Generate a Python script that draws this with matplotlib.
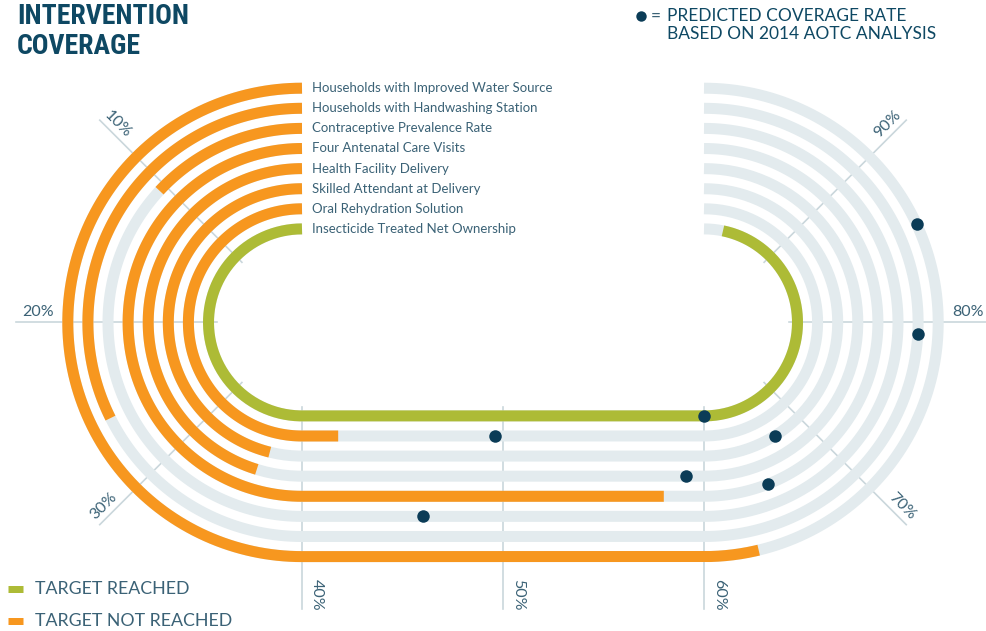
import numpy as np
import matplotlib
matplotlib.use("Agg")
import matplotlib.pyplot as plt

# data: rings listed from outermost to innermost
labels = [
    "Households with Improved Water Source",
    "Households with Handwashing Station",
    "Contraceptive Prevalence Rate",
    "Four Antenatal Care Visits",
    "Health Facility Delivery",
    "Skilled Attendant at Delivery",
    "Oral Rehydration Solution",
    "Insecticide Treated Net Ownership",
]
coverage = [63.0, 25.9, 10.5, 58.0, 36.2, 36.9, 41.8, 97.4]
predicted = [85.5, 79.3, 46.0, 64.8, 59.1, 67.1, 49.6, 60.0]
reached = [False, False, False, False, False, False, False, True]
tick_pcts = [10, 20, 30, 40, 50, 60, 70, 80, 90]

ORANGE = "#F7971F"
GREEN = "#ADBB36"
TRACK = "#E3EBEE"
NAVY = "#0B3C57"
TEXT = "#3B6276"
TITLE = "#0E4863"
GRID = "#CAD7DC"

# racetrack geometry (pixel space)
CXL, CXR, CY = 302.0, 704.0, 322.4
R0, DR = 93.5, 20.1
LW = 11 * 0.72  # 11 px ring width


def track_xy(p, r):
    p = np.asarray(p, dtype=float)
    x = np.empty_like(p)
    y = np.empty_like(p)
    left = p <= 40
    mid = (p > 40) & (p <= 60)
    right = p > 60
    th = np.radians(90 + p[left] / 40 * 180)
    x[left] = CXL + r * np.cos(th)
    y[left] = CY - r * np.sin(th)
    x[mid] = CXL + (p[mid] - 40) / 20 * (CXR - CXL)
    y[mid] = CY + r
    th = np.radians(-90 + (p[right] - 60) / 40 * 180)
    x[right] = CXR + r * np.cos(th)
    y[right] = CY - r * np.sin(th)
    return x, y


def track_path(p0, p1, r):
    pts = [np.linspace(p0, min(p1, 40), 120)] if p0 < 40 else []
    if p1 > 40:
        pts.append(np.array([max(p0, 40), min(p1, 60)]))
    if p1 > 60:
        pts.append(np.linspace(max(p0, 60), p1, 120))
    p = np.concatenate(pts)
    return track_xy(p, r)


fig = plt.figure(figsize=(9.87, 6.31), dpi=100)
ax = fig.add_axes([0, 0, 1, 1])
ax.set_xlim(0, 987)
ax.set_ylim(631, 0)
ax.axis("off")

# grid lines and percent labels
for t in tick_pcts:
    if 40 <= t <= 60:
        x, _ = track_xy([t], 0)
        ax.plot([x[0], x[0]], [CY + 85, 609], color=GRID, lw=1.2, zorder=1)
        ax.text(x[0] + 8, 579, f"{t}%", rotation=-90, ha="left", va="top",
                fontsize=11.5, color=TEXT, family="Lato")
        continue
    if t < 40:
        ang = 90 + t / 40 * 180
        cx = CXL
        perp = ang - 90
        rot = ang - 180
    else:
        ang = -90 + (t - 60) / 40 * 180
        cx = CXR
        perp = ang + 90
        rot = ang
    a = np.radians(ang)
    ax.plot([cx + 85 * np.cos(a), cx + 286 * np.cos(a)],
            [CY - 85 * np.sin(a), CY - 286 * np.sin(a)],
            color=GRID, lw=1.2, zorder=1)
    pr = np.radians(perp)
    rl = 264 if t in (20, 80) else 270
    tx = cx + rl * np.cos(a) + 10 * np.cos(pr)
    ty = CY - rl * np.sin(a) - 10 * np.sin(pr)
    ax.text(tx, ty, f"{t}%", rotation=rot, rotation_mode="anchor",
            ha="center", va="center", fontsize=11.5, color=TEXT, family="Lato")

# rings
n = len(labels)
for i, (lab, cov, pred, ok) in enumerate(zip(labels, coverage, predicted, reached)):
    r = R0 + DR * (n - 1 - i)
    x, y = track_path(0, 100, r)
    ax.plot(x, y, color=TRACK, lw=LW, solid_capstyle="butt", zorder=2)
    x, y = track_path(0, cov, r)
    ax.plot(x, y, color=GREEN if ok else ORANGE, lw=LW,
            solid_capstyle="butt", zorder=3)
    px, py = track_xy([pred], r)
    ax.plot(px, py, "o", color=NAVY, ms=9, mec="none", zorder=4)
    ax.text(CXL + 10, CY - r, lab, ha="left", va="center", fontsize=9.5,
            color=TEXT, family="Lato")

# title
for yy, txt in [(16, "INTERVENTION"), (47, "COVERAGE")]:
    ax.text(17, yy, txt, ha="left", va="center", fontsize=20,
            fontweight="bold", color=TITLE,
            family=["Roboto Condensed", "Roboto"])

# predicted legend
ax.plot([641], [16], "o", color=NAVY, ms=7.5, mec="none")
ax.text(651, 16, "=", ha="left", va="center", fontsize=12.5, color=TEXT,
        family="Lato")
ax.text(667, 16, "PREDICTED COVERAGE RATE", ha="left", va="center",
        fontsize=12.5, color=TITLE, family="Lato")
ax.text(667, 34, "BASED ON 2014 AOTC ANALYSIS", ha="left", va="center",
        fontsize=12.5, color=TITLE, family="Lato")

# target legend
for yy, col, txt in [(589, GREEN, "TARGET REACHED"), (621, ORANGE, "TARGET NOT REACHED")]:
    ax.plot([8, 23], [yy, yy], color=col, lw=7 * 0.72, solid_capstyle="butt")
    ax.text(35, yy, txt, ha="left", va="center", fontsize=12.8, color=TEXT,
            family="Lato")

fig.savefig("out.png", dpi=100)
